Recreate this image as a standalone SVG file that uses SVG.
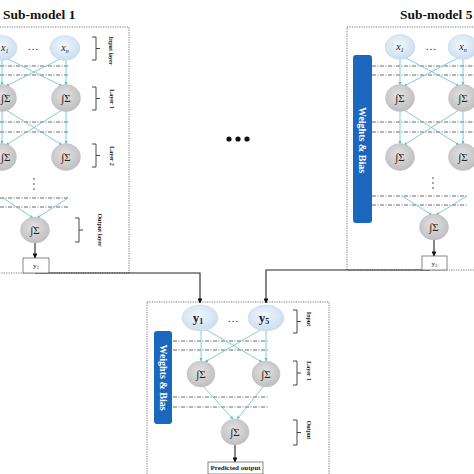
<svg xmlns="http://www.w3.org/2000/svg" width="474" height="474" viewBox="0 0 474 474">
<defs>
<radialGradient id="gGray" cx="45%" cy="40%" r="65%"><stop offset="0" stop-color="#e2e2e2"/><stop offset="1" stop-color="#bcbcbc"/></radialGradient>
<radialGradient id="gBlue" cx="45%" cy="40%" r="65%"><stop offset="0" stop-color="#f2f7fc"/><stop offset="1" stop-color="#c8dbef"/></radialGradient>
<marker id="aL" viewBox="0 0 6 6" refX="5.5" refY="3" markerWidth="4" markerHeight="4" orient="auto"><path d="M0,0 L6,3 L0,6 z" fill="#5fbfd4"/></marker>
<marker id="aK" viewBox="0 0 6 6" refX="5.5" refY="3" markerWidth="4.5" markerHeight="4.5" orient="auto"><path d="M0,0 L6,3 L0,6 z" fill="#111"/></marker>
</defs>
<style>
.frame{fill:none;stroke:#666;stroke-width:0.9;stroke-dasharray:1.2 1.2}
.dd{fill:none;stroke:#444;stroke-width:0.8;stroke-dasharray:4 1.5 1 1.5}
.lb{fill:none;stroke:#5fbfd4;stroke-width:0.8;marker-end:url(#aL)}
.blk{fill:none;stroke:#222;stroke-width:1.1;marker-end:url(#aK)}
.gn{fill:url(#gGray);stroke:#bdbdbd;stroke-width:0.5}
.bn{fill:url(#gBlue);stroke:#c4d6ea;stroke-width:0.5}
.sig{font-family:"Liberation Serif",serif;font-size:11px;fill:#222;text-anchor:middle}
.xin{font-family:"Liberation Serif",serif;font-style:italic;font-size:10px;fill:#222;text-anchor:middle}
.yin{font-family:"Liberation Serif",serif;font-weight:bold;font-size:13px;fill:#1a1a2e;text-anchor:middle}
.ttl{font-family:"Liberation Serif",serif;font-weight:bold;font-size:13.5px;fill:#111}
.lay{font-family:"Liberation Serif",serif;font-weight:bold;font-size:6px;fill:#222;text-anchor:middle}
.bar{fill:#1b67bd}
.bart{font-family:"Liberation Serif",serif;font-weight:bold;font-size:10px;fill:#fff;text-anchor:middle}
.brk{fill:none;stroke:#333;stroke-width:0.9}
.box{fill:#fff;stroke:#555;stroke-width:0.7}
.boxt{font-family:"Liberation Serif",serif;font-size:7px;fill:#222;text-anchor:middle}
.dot{fill:#333}
.edge{text-anchor:start}
</style>
<rect width="474" height="474" fill="#fff"/>

<g id="frames">
<rect class="frame" x="-5" y="27" width="134" height="246"/>
<rect class="frame" x="347" y="27" width="140" height="243"/>
<rect class="frame" x="147" y="302" width="182" height="180"/>
</g>

<g id="titles">
<text class="ttl" x="3" y="19">Sub-model 1</text>
<text class="ttl" x="400" y="19">Sub-model 5</text>
</g>

<g id="guides">
<path class="dd" d="M0,66 H68 M0,75 H68 M0,122 H68 M0,132 H68 M0,198 H68 M0,207 H68"/>
<path class="dd" d="M372,66 H474 M372,75 H474 M372,122 H474 M372,132 H474 M372,196 H467 M372,205 H467"/>
<path class="dd" d="M173,341 H268 M173,350 H268 M173,397 H268 M173,407 H268"/>
</g>

<g id="connectors">
<path class="lb" d="M2,60 V85"/>
<path class="lb" d="M66,60 V85"/>
<path class="lb" d="M8,59 L62,86"/>
<path class="lb" d="M60,59 L6,86"/>
<path class="lb" d="M2,111 V144"/>
<path class="lb" d="M66,111 V144"/>
<path class="lb" d="M6,110 L62,145"/>
<path class="lb" d="M62,110 L6,145"/>
<path class="lb" d="M3,198 L33,218"/>
<path class="lb" d="M68,198 L37,218"/>
<path class="blk" d="M35,242 V258"/>

<path class="lb" d="M400,59 V85"/>
<path class="lb" d="M463,59 V85"/>
<path class="lb" d="M406,58 L459,86"/>
<path class="lb" d="M458,58 L404,86"/>
<path class="lb" d="M400,111 V144"/>
<path class="lb" d="M463,111 V144"/>
<path class="lb" d="M404,110 L459,145"/>
<path class="lb" d="M459,110 L404,145"/>
<path class="lb" d="M402,196 L432,215"/>
<path class="lb" d="M467,196 L436,215"/>
<path class="blk" d="M434,239 V256"/>

<path class="lb" d="M201,331 V361"/>
<path class="lb" d="M266,331 V361"/>
<path class="lb" d="M205,329 L262,362"/>
<path class="lb" d="M262,329 L205,362"/>
<path class="lb" d="M203,386 L233,419"/>
<path class="lb" d="M264,386 L237,419"/>
<path class="blk" d="M235,445 V462"/>

<path class="blk" d="M35,273 H200 V303"/>
<path class="blk" d="M430,270 H266 V303"/>
</g>

<g id="s1-x1"><ellipse class="bn" cx="2" cy="48" rx="15" ry="12.5"/><text class="xin edge" x="1" y="51">x<tspan font-size="6" dy="1.5">1</tspan></text></g>
<g id="s1-xn"><ellipse class="bn" cx="65" cy="48" rx="15" ry="12.5"/><text class="xin" x="65" y="51">x<tspan font-size="6" dy="1.5">n</tspan></text></g>
<text class="sig" x="33" y="50">…</text>
<g id="s1-l1a"><ellipse class="gn" cx="2" cy="98" rx="14.5" ry="13.5"/><text class="sig edge" x="1" y="102">∫Σ</text></g>
<g id="s1-l1b"><ellipse class="gn" cx="66" cy="98" rx="14.5" ry="13.5"/><text class="sig" x="66" y="102">∫Σ</text></g>
<g id="s1-l2a"><ellipse class="gn" cx="2" cy="157" rx="14.5" ry="13.5"/><text class="sig edge" x="1" y="161">∫Σ</text></g>
<g id="s1-l2b"><ellipse class="gn" cx="66" cy="157" rx="14.5" ry="13.5"/><text class="sig" x="66" y="161">∫Σ</text></g>
<g id="s1-vdots"><circle class="dot" cx="34" cy="179" r="0.8"/><circle class="dot" cx="34" cy="184" r="0.8"/><circle class="dot" cx="34" cy="189" r="0.8"/></g>
<g id="s1-out"><ellipse class="gn" cx="35" cy="230" rx="14.5" ry="13"/><text class="sig" x="35" y="234">∫Σ</text></g>
<g id="s1-y1"><rect class="box" x="23" y="258" width="26" height="15"/><text class="boxt" x="36" y="268">y<tspan font-size="5" dy="1">1</tspan></text></g>
<g id="s1-labels">
<path class="brk" d="M92,37 H96 V60 H92 M96,48.5 H100"/>
<text class="lay" transform="translate(111,51) rotate(90)" dy="2">Input layer</text>
<path class="brk" d="M92,87 H96 V110 H92 M96,98.5 H100"/>
<text class="lay" transform="translate(112,99) rotate(90)" dy="2">Layer 1</text>
<path class="brk" d="M92,144 H96 V167 H92 M96,155.5 H100"/>
<text class="lay" transform="translate(112,156) rotate(90)" dy="2">Layer 2</text>
<path class="brk" d="M75,218 H79 V242 H75 M79,230 H83"/>
<text class="lay" transform="translate(100,230) rotate(90)" dy="2">Output layer</text>
</g>

<g id="s5-bar"><rect class="bar" x="353" y="55" width="19" height="168" rx="3"/><text class="bart" transform="translate(362.5,140) rotate(90)" dy="3.5">Weights &amp; Bias</text></g>
<g id="s5-x1"><ellipse class="bn" cx="400" cy="47" rx="15" ry="12.5"/><text class="xin" x="400" y="50">x<tspan font-size="6" dy="1.5">1</tspan></text></g>
<g id="s5-xn"><ellipse class="bn" cx="463" cy="47" rx="15" ry="12.5"/><text class="xin" x="463" y="50">x<tspan font-size="6" dy="1.5">n</tspan></text></g>
<text class="sig" x="431" y="50">…</text>
<g id="s5-l1a"><ellipse class="gn" cx="400" cy="98" rx="14.5" ry="13.5"/><text class="sig" x="400" y="102">∫Σ</text></g>
<g id="s5-l1b"><ellipse class="gn" cx="463" cy="98" rx="14.5" ry="13.5"/><text class="sig" x="463" y="102">∫Σ</text></g>
<g id="s5-l2a"><ellipse class="gn" cx="400" cy="157" rx="14.5" ry="13.5"/><text class="sig" x="400" y="161">∫Σ</text></g>
<g id="s5-l2b"><ellipse class="gn" cx="463" cy="157" rx="14.5" ry="13.5"/><text class="sig" x="463" y="161">∫Σ</text></g>
<g id="s5-vdots"><circle class="dot" cx="433" cy="178" r="0.8"/><circle class="dot" cx="433" cy="183" r="0.8"/><circle class="dot" cx="433" cy="188" r="0.8"/></g>
<g id="s5-out"><ellipse class="gn" cx="434" cy="227" rx="14.5" ry="13"/><text class="sig" x="434" y="231">∫Σ</text></g>
<g id="s5-y5"><rect class="box" x="422" y="256" width="25" height="14"/><text class="boxt" x="434.5" y="265.5">y<tspan font-size="5" dy="1">5</tspan></text></g>

<g id="ellipsis"><circle cx="229" cy="139" r="2.6" fill="#111"/><circle cx="238" cy="139" r="2.6" fill="#111"/><circle cx="247" cy="139" r="2.6" fill="#111"/></g>

<g id="m-bar"><rect class="bar" x="154" y="331" width="18" height="93" rx="3"/><text class="bart" transform="translate(163,377.5) rotate(90)" dy="3.5">Weights &amp; Bias</text></g>
<g id="m-y1"><ellipse class="bn" cx="200" cy="318" rx="18" ry="13"/><text class="yin" x="198" y="322">y<tspan font-size="8" dy="1.5">1</tspan></text></g>
<g id="m-y5"><ellipse class="bn" cx="266" cy="318" rx="18" ry="13"/><text class="yin" x="264" y="322">y<tspan font-size="8" dy="1.5">5</tspan></text></g>
<text class="sig" x="233" y="322">…</text>
<g id="m-l1a"><ellipse class="gn" cx="201" cy="374" rx="14" ry="13"/><text class="sig" x="201" y="378">∫Σ</text></g>
<g id="m-l1b"><ellipse class="gn" cx="266" cy="374" rx="14" ry="13"/><text class="sig" x="266" y="378">∫Σ</text></g>
<g id="m-out"><ellipse class="gn" cx="235" cy="432" rx="14" ry="13"/><text class="sig" x="235" y="436">∫Σ</text></g>
<g id="m-pred"><rect class="box" x="208" y="462" width="55" height="12"/><text class="boxt" x="235.5" y="470" font-size="5.5" font-weight="bold">Predicted output</text></g>
<g id="m-labels">
<path class="brk" d="M293,310 H297 V333 H293 M297,321.5 H301"/>
<text class="lay" transform="translate(309,319) rotate(90)" dy="2">Input</text>
<path class="brk" d="M293,361 H297 V385 H293 M297,373 H301"/>
<text class="lay" transform="translate(309,371) rotate(90)" dy="2">Layer 1</text>
<path class="brk" d="M293,420 H297 V445 H293 M297,432.5 H301"/>
<text class="lay" transform="translate(309,430) rotate(90)" dy="2">Output</text>
</g>
</svg>
